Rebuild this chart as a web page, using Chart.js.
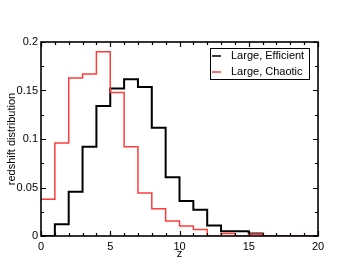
<!DOCTYPE html>
<html>
<head>
<meta charset="utf-8">
<script src="https://cdn.jsdelivr.net/npm/chart.js@4/dist/chart.umd.min.js"></script>
<style>
html,body{margin:0;padding:0;background:#fff;}
#wrap{width:358px;height:277px;}
</style>
</head>
<body>
<div id="wrap"><canvas id="c" width="358" height="277"></canvas></div>
<script>
const binEdges = [0,1,2,3,4,5,6,7,8,9,10,11,12,13,14,15,16,17,18,19,20];
const efficient = [0,0.012,0.0455,0.092,0.134,0.152,0.1615,0.1536,0.1116,0.0606,0.036,0.027,0.0107,0.005,0.005,0.0025,0,0,0,0];
const chaotic = [0.038,0.096,0.163,0.167,0.19,0.148,0.092,0.0444,0.028,0.0155,0.0103,0.0066,0,0.0025,0,0.002,0,0,0,0];
const seriesLabels = ['Large, Efficient','Large, Chaotic'];
const seriesColors = ['#000000','#ff3c3c'];
const xTickLabels = ['0','5','10','15','20'];
const yTickLabels = ['0','0.05','0.1','0.15','0.2'];

function stepPoints(vals){
  const pts = vals.map((v,i)=>({x:binEdges[i], y:v}));
  pts.push({x:binEdges[vals.length], y:vals[vals.length-1]});
  return pts;
}
const FONT = '"Liberation Sans", Arial, Helvetica, sans-serif';

const framePlugin = {
  id:'frame',
  afterDatasetsDraw(chart){
    const {ctx, chartArea:a, scales:{x,y}} = chart;
    ctx.save();
    ctx.strokeStyle='#000';
    ctx.lineWidth=1.2;
    ctx.beginPath();
    for(let v=0; v<=20; v+=1){
      const px = Math.round(x.getPixelForValue(v))+0.5;
      const len = (v%5===0)?5:3;
      ctx.moveTo(px,a.bottom); ctx.lineTo(px,a.bottom-len);
      ctx.moveTo(px,a.top); ctx.lineTo(px,a.top+len);
    }
    for(let k=0;k<=8;k++){
      const v=k*0.025;
      const py = Math.round(y.getPixelForValue(v))+0.5;
      const len = (k%2===0)?5:3;
      ctx.moveTo(a.left,py); ctx.lineTo(a.left+len,py);
      ctx.moveTo(a.right,py); ctx.lineTo(a.right-len,py);
    }
    ctx.stroke();
    ctx.lineWidth=1.6;
    ctx.strokeRect(a.left, a.top, a.right-a.left, a.bottom-a.top);
    ctx.restore();
  },
  afterDraw(chart){
    const ctx = chart.ctx;
    ctx.save();
    const bx=210.5, by=48.5, bw=99, bh=31;
    ctx.fillStyle='#fff';
    ctx.fillRect(bx,by,bw,bh);
    ctx.strokeStyle='#000'; ctx.lineWidth=1;
    ctx.strokeRect(bx,by,bw,bh);
    ctx.font='11px '+FONT;
    ctx.textBaseline='middle';
    chart.data.datasets.forEach((ds,i)=>{
      const cy = 56 + i*16;
      ctx.strokeStyle=ds.borderColor; ctx.lineWidth=1.5;
      ctx.beginPath(); ctx.moveTo(212,cy); ctx.lineTo(221,cy); ctx.stroke();
      ctx.fillStyle='#000';
      ctx.fillText(ds.label, 231, cy);
    });
    ctx.restore();
  }
};

new Chart(document.getElementById('c'),{
  type:'line',
  data:{
    datasets:[
      {label:seriesLabels[0], data:stepPoints(efficient), borderColor:seriesColors[0], borderWidth:2, pointRadius:0, stepped:true, fill:false, order:2},
      {label:seriesLabels[1], data:stepPoints(chaotic), borderColor:seriesColors[1], borderWidth:1.5, pointRadius:0, stepped:true, fill:false, order:1}
    ]
  },
  options:{
    responsive:false,
    animation:false,
    layout:{padding:{top:42,right:40,left:0,bottom:0}},
    plugins:{legend:{display:false}, tooltip:{enabled:false}},
    scales:{
      x:{
        type:'linear', min:0, max:20,
        afterFit(s){ s.height=41; },
        grid:{display:false, drawTicks:false},
        border:{display:false},
        ticks:{stepSize:5, padding:4, color:'#000', font:{family:FONT,size:11},
          callback:(v)=>{return (v%5===0)? xTickLabels[v/5] : '';}},
        title:{display:true, text:'z', color:'#000', font:{family:FONT,size:11}, padding:{top:0,bottom:16}}
      },
      y:{
        type:'linear', min:0, max:0.2,
        afterFit(s){ s.width=41; },
        grid:{display:false, drawTicks:false},
        border:{display:false},
        ticks:{stepSize:0.05, padding:3, color:'#000', font:{family:FONT,size:11},
          callback:(v)=>{const k=Math.round(v/0.05); return yTickLabels[k];}},
        title:{display:true, text:'redshift distribution', color:'#000', font:{family:FONT,size:11}, padding:{top:5,bottom:0}}
      }
    }
  },
  plugins:[framePlugin]
});
</script>
</body>
</html>
